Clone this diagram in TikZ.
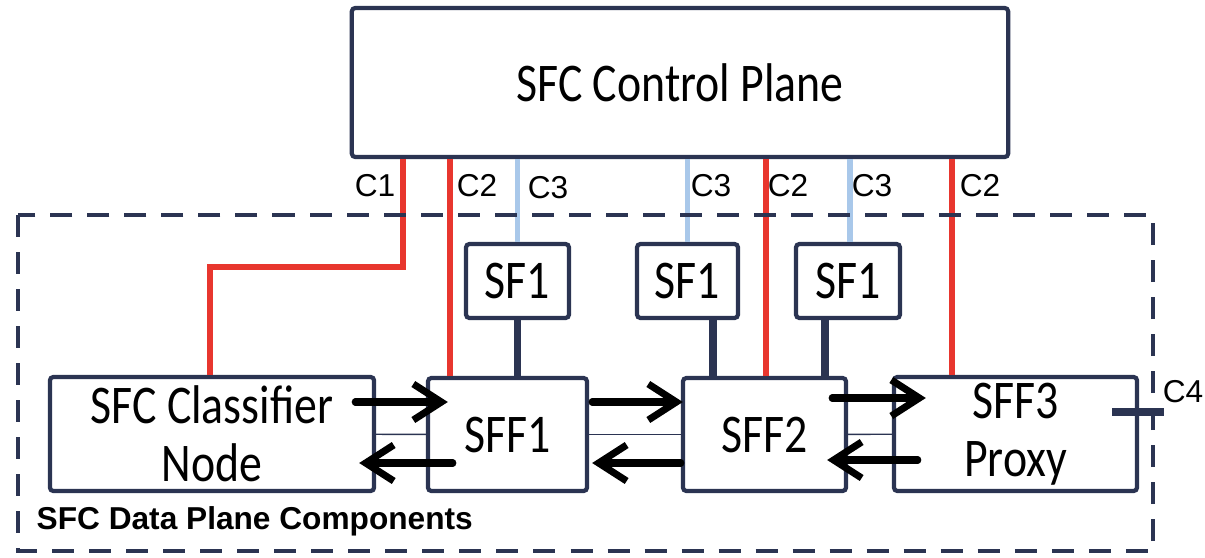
\documentclass[tikz,border=0pt]{standalone}
\usepackage{fontspec}
\setmainfont{Liberation Sans}
\newfontfamily\boxfont[FakeStretch=0.84]{Carlito}
\usetikzlibrary{arrows.meta}
\definecolor{navy}{HTML}{2B3452}
\definecolor{ctrlred}{HTML}{E8362E}
\definecolor{ctrlblue}{HTML}{A9C8EA}

\begin{document}
\begin{tikzpicture}[x=0.01cm, y=-0.01cm,
  blk/.style={draw=navy, line width=1.2pt, rounded corners=1pt, fill=white, inner sep=0pt, align=center,
    font=\boxfont\fontsize{15.5}{16.5}\selectfont},
  redlink/.style={draw=ctrlred, line width=1.7pt},
  bluelink/.style={draw=ctrlblue, line width=1.7pt},
  navylink/.style={draw=navy, line width=2pt},
  thinlink/.style={draw=navy, line width=0.4pt},
  flow/.style={line width=2pt, line cap=round, -{Straight Barb[length=2.8mm, width=3.6mm]}},
  clabel/.style={font=\fontsize{9}{10}\selectfont, inner sep=0pt}]
  \useasboundingbox (0,0) rectangle (1205,557);

  % boxes
  \node[blk, minimum width=6.56cm, minimum height=1.49cm] (cp) at (680,82.5) {SFC Control Plane};
  \node[blk, minimum width=3.24cm, minimum height=1.14cm] (cls) at (212,434) {SFC Classifier\\Node};
  \node[blk, minimum width=1.59cm, minimum height=1.13cm] (sff1) at (507.5,434.5) {SFF1};
  \node[blk, minimum width=1.63cm, minimum height=1.13cm] (sff2) at (764.5,434.5) {SFF2};
  \node[blk, minimum width=2.43cm, minimum height=1.14cm] (sff3) at (1015.5,434) {SFF3\\Proxy};
  \node[blk, minimum width=1.03cm, minimum height=0.74cm] (sfa) at (517.5,281) {SF1};
  \node[blk, minimum width=1.01cm, minimum height=0.74cm] (sfb) at (687.5,281) {SF1};
  \node[blk, minimum width=1.04cm, minimum height=0.74cm] (sfc) at (848,281) {SF1};

  % control plane links
  \draw[redlink] (403,0 |- cp.south) |- (210,267) -- (210,0 |- cls.north);
  \draw[redlink] (450,0 |- cp.south) -- (450,0 |- sff1.north);
  \draw[redlink] (766,0 |- cp.south) -- (766,0 |- sff2.north);
  \draw[redlink] (952,0 |- cp.south) -- (952,0 |- sff3.north);
  \draw[bluelink] (cp.south -| sfa.north) -- (sfa.north);
  \draw[bluelink] (cp.south -| sfb.north) -- (sfb.north);
  \draw[bluelink] (850,0 |- cp.south) -- (850,0 |- sfc.north);

  % data plane frame
  \draw[navy, line width=1.1pt, dash pattern=on 0.22cm off 0.15cm] (18,215) rectangle (1153,551);
  \node[font=\bfseries\fontsize{9}{10}\selectfont, anchor=west, inner sep=0pt] (dplabel) at (36,521) {SFC Data Plane Components};

  % SF to SFF
  \draw[navylink] (sfa.south) -- (sfa.south |- sff1.north);
  \draw[navylink] (713,0 |- sfb.south) -- (713,0 |- sff2.north);
  \draw[navylink] (825,0 |- sfc.south) -- (825,0 |- sff2.north);
  \draw[thinlink] (cls) -- (sff1);
  \draw[thinlink] (sff1) -- (sff2);
  \draw[thinlink] (sff2) -- (sff3);

  % traffic
  \draw[flow] ([shift={(-21,-32)}]cls.east) -- ([shift={(22,-32.5)}]sff1.west);
  \draw[flow] ([shift={(27,28.5)}]sff1.west) -- ([shift={(-17,29)}]cls.east);
  \draw[flow] ([shift={(3,-32.5)}]sff1.east) -- ([shift={(2,-32.5)}]sff2.west);
  \draw[flow] ([shift={(0,28.5)}]sff2.west) -- ([shift={(3,28.5)}]sff1.east);
  \draw[flow] ([shift={(-16,-36.5)}]sff2.east) -- ([shift={(34,-36)}]sff3.west);
  \draw[flow] ([shift={(26,26)}]sff3.west) -- ([shift={(-21,25.5)}]sff2.east);

  % C4
  \draw[navylink] ([shift={(-27,-22)}]sff3.east) -- ++(52,0) coordinate (c4end);
  \node[clabel] at (1183,392) {C4};

  % labels
  \node[clabel] at (375,186) {C1};
  \node[clabel] at (477,186) {C2};
  \node[clabel] at (548,188) {C3};
  \node[clabel] at (711,186) {C3};
  \node[clabel] at (788,186) {C2};
  \node[clabel] at (872,186) {C3};
  \node[clabel] at (980,186) {C2};
\end{tikzpicture}
\end{document}
